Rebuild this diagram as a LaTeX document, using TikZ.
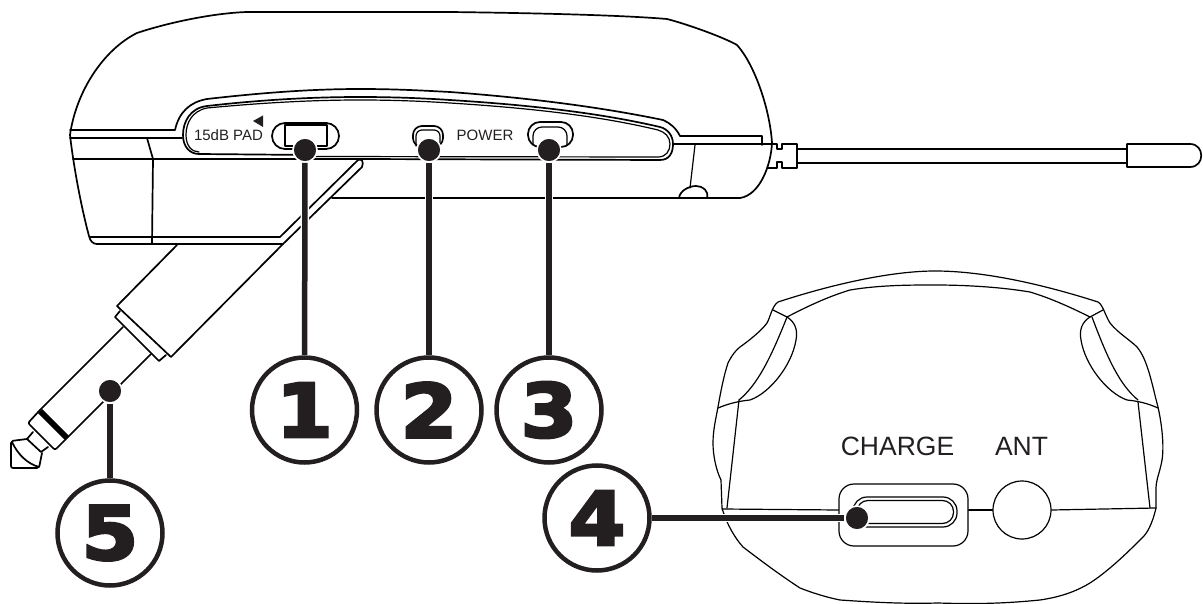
\documentclass[tikz,border=0pt]{standalone}
\usepackage{fontspec}
\setmainfont{Liberation Sans}
\newfontfamily\numfont[FakeBold=4,FakeStretch=1.1]{DejaVu Sans Bold}
\definecolor{calldark}{HTML}{231F20}
\tikzset{
    body/.style={line width=1.7pt,line join=round,line cap=round},
    thinbody/.style={line width=1.2pt,line join=round,line cap=round},
    calldot/.style={circle,fill=calldark,draw=white,line width=1.6pt,minimum size=24pt,inner sep=0pt},
    callnum/.style={circle,draw=calldark,fill=white,line width=4.5pt,minimum size=105pt,inner sep=0pt,
        text=calldark,font=\numfont\fontsize{74}{78}\selectfont},
    callwire/.style={calldark,line width=5.5pt,preaction={draw=white,line width=8.5pt}},
    smalltext/.style={inner sep=0pt,font=\fontsize{15}{18}\selectfont,text=calldark},
    bigtext/.style={inner sep=0pt,font=\fontsize{26.5}{30}\selectfont,text=calldark}
}
\begin{document}
\begin{tikzpicture}[x=1pt,y=-1pt]
    \useasboundingbox (0,0) rectangle (1203,604);

    % Transmitter body outline
    \draw[body] (70,135) .. controls (76,92) and (103,50) .. (137,33) .. controls (170,22) and (215,13) .. (247,12) -- (450,12) .. controls (530,13) and (620,15) .. (667,19) .. controls (690,25) and (725,38) .. (737,45) .. controls (755,65) and (770,110) .. (772,143) .. controls (771,165) and (760,195) .. (740,198);
    \draw[body] (740,198) -- (332,198);
    \draw[body] (70,135) .. controls (74,170) and (82,210) .. (89,236) .. controls (90,241) and (93,244) .. (97,244);
    \draw[body] (97,244) -- (283,244) -- (362,167);
    \draw[body] (90,237) -- (280,237) -- (358,160);
    \draw[body] (358,160) .. controls (362,158) and (364,162) .. (362,167);

    % Panel on the side of the body
    \draw[body] (70,130) -- (175,130) .. controls (179,112) and (190,102) .. (207,99) .. controls (260,93) and (310,89) .. (360,89) .. controls (400,89) and (430,91) .. (450,92) .. controls (530,98) and (600,107) .. (663,120) .. controls (670,123) and (676,128) .. (680,136) -- (762,136) -- (762,145);
    \draw[body] (70,138) -- (182,138);
    \draw[body] (73,159) -- (360,159);
    \draw[body] (360,159) -- (660,160) .. controls (670,160) and (673,152) .. (673,144) .. controls (673,136) and (668,129) .. (660,127) .. controls (600,113) and (530,105) .. (450,100) .. controls (420,98) and (390,97) .. (360,97) .. controls (310,97) and (260,100) .. (207,106) .. controls (190,108) and (183,122) .. (183,135) .. controls (183,147) and (190,154) .. (199,154) -- (310,155);
    \draw[thinbody] (310,156.5) -- (658,157) .. controls (666,157) and (670,151) .. (670,144) .. controls (670,137) and (665,132) .. (658,130) .. controls (600,116) and (530,108) .. (450,103) .. controls (420,101) and (390,100) .. (360,100) .. controls (310,100) and (260,103) .. (207,108) .. controls (192,111) and (186,123) .. (186,135) .. controls (186,146) and (192,152) .. (199,152);
    \draw[body] (673,144) -- (772,144);
    \draw[body] (147,138) -- (153,159) -- (152,244);
    \draw[thinbody] (695,145) -- (690,188);
    \draw[body] (679,198) .. controls (680,190) and (690,186) .. (696,186) .. controls (703,186) and (709,191) .. (707,198);

    % Antenna
    \draw[body] (772,144) -- (777,144) -- (777,149) -- (782,149) -- (782,144) -- (797,144) -- (797,168) -- (782,168) -- (782,162) -- (777,162) -- (777,168) -- (768,168);
    \draw[body] (797,149) -- (1127,149);
    \draw[body] (797,163) -- (1127,163);
    \draw[body] (1127,144) -- (1190,144) .. controls (1205,144) and (1205,167) .. (1190,167) -- (1127,167) -- cycle;

    % Plug
    \draw[body] (177,245) -- (117,306) -- (171,357) -- (283,244);
    \draw[body] (120,311) -- (115,317) -- (159,361) -- (166,355);
    \draw[body] (123,327) -- (40,410);
    \draw[body] (151,354) -- (68,437);
    \draw[line width=6pt] (40,411) -- (67,438);
    \draw[body,rounded corners=2pt] (40,410) -- (28,423) -- (55,450) -- (68,437);
    \draw[body] (33,432) -- (27,439) -- (41,452) -- (48,447);
    \draw[body,rounded corners=2pt] (27,439) -- (11,441) -- (11,468) -- (39,468) -- (42,453);
    \draw[body] (12,442) .. controls (18,455) and (28,464) .. (39,467);

    % Switches and lamp on the panel
    \draw[body,rounded corners=13pt] (272,123) rectangle (339,149);
    \draw[body,fill=white] (285,125) rectangle (327,146);
    \draw[body] (285,123) -- (327,123);
    \draw[body,rounded corners=9pt] (413,126) rectangle (443,147);
    \draw[thinbody,rounded corners=6pt] (416,146) -- (416,130) -- (440,130) -- (440,146);
    \draw[body,rounded corners=12pt] (528,122) rectangle (573,147);
    \draw[thinbody,rounded corners=9pt] (533,145) -- (533,127) -- (567,127) -- (567,145);
    \fill[calldark] (253,121) -- (263,115.5) -- (263,127) -- cycle;
    \node[smalltext] (padlabel) at (228.5,135.5) {15dB PAD};
    \node[smalltext] (powerlabel) at (485,135.5) {POWER};

    % Receiver seen from the end
    \draw[thinbody] (778,302) .. controls (830,285) and (890,271) .. (935,271) .. controls (985,271) and (1045,285) .. (1098,302) .. controls (1103,305) and (1105,315) .. (1110,323) .. controls (1118,333) and (1130,340) .. (1137,347) .. controls (1148,360) and (1152,385) .. (1158,407) .. controls (1162,425) and (1165,450) .. (1161,465) .. controls (1158,478) and (1156,480) .. (1156,490) -- (1156,508) .. controls (1152,525) and (1147,533) .. (1143,537) .. controls (1130,550) and (1110,570) .. (1090,583) .. controls (1075,592) and (1060,597) .. (1040,600) .. controls (1000,604) and (970,604) .. (938,603) .. controls (900,604) and (870,602) .. (840,600) .. controls (825,597) and (810,592) .. (800,588) .. controls (780,575) and (760,560) .. (743,547) .. controls (735,538) and (727,525) .. (722,508) -- (721,480) .. controls (716,470) and (713,455) .. (713,443) .. controls (713,430) and (716,418) .. (718,407) .. controls (721,390) and (724,375) .. (728,363) .. controls (732,355) and (736,350) .. (740,347) .. controls (750,340) and (762,330) .. (767,323) .. controls (770,318) and (772,306) .. (778,302);
    \draw[thinbody] (787,317) .. controls (810,305) and (830,296) .. (850,290) .. controls (880,285) and (910,285) .. (935,285) .. controls (965,285) and (1000,287) .. (1030,292) .. controls (1050,298) and (1070,307) .. (1090,317);
    \draw[thinbody] (773,310) -- (787,317);
    \draw[thinbody] (1103,310) -- (1090,317);
    \draw[thinbody] (787,317) .. controls (795,322) and (798,330) .. (796,340) .. controls (792,365) and (770,393) .. (750,400) .. controls (740,401) and (730,403) .. (718,408);
    \draw[thinbody] (1090,317) .. controls (1082,322) and (1079,330) .. (1081,340) .. controls (1085,365) and (1107,393) .. (1127,400) .. controls (1137,401) and (1147,403) .. (1158,408);
    \draw[thinbody] (787,317) .. controls (770,360) and (757,385) .. (739,400);
    \draw[thinbody] (1092,317) .. controls (1108,360) and (1120,385) .. (1138,400);
    \draw[thinbody] (739,400) -- (727,508);
    \draw[thinbody] (1138,402) -- (1150,508);

    % Sockets
    \node[draw=black,thinbody,minimum size=58pt,circle,inner sep=0pt] (antsocket) at (1022,510) {};
    \node[draw=black,thinbody,rectangle,rounded corners=15pt,minimum width=129pt,minimum height=62pt,inner sep=0pt] (chargesocket) at (903.5,515) {};
    \draw[thinbody] (722,509) -- (chargesocket.west |- 0,510);
    \draw[thinbody] (chargesocket.east |- 0,510) -- (antsocket.west);
    \draw[thinbody] (antsocket.east) -- (1156,508);
    \draw[thinbody,rounded corners=14pt] (853,497) rectangle (957,527);
    \draw[thinbody,rounded corners=11pt] (857,500.5) rectangle (953.5,523.5);
    \node[bigtext] (chargelabel) at (897.5,446.5) {CHARGE};
    \node[bigtext] (antlabel) at (1021.5,446.5) {ANT};

    % Numbered callouts
    \node[calldot] (dota) at (305,150) {};
    \node[calldot] (dotb) at (429,150) {};
    \node[calldot] (dotc) at (549,150) {};
    \node[calldot] (dotd) at (857,518) {};
    \node[calldot] (dote) at (110,391) {};
    \node[callnum] (numa) at (304.5,410) {1};
    \node[callnum] (numb) at (429,410) {2};
    \node[callnum] (numc) at (549,410) {3};
    \node[callnum] (numd) at (597,518) {4};
    \node[callnum] (nume) at (110,533) {5};
    \foreach \from/\to in {dota/numa,dotb/numb,dotc/numc,dotd/numd,dote/nume} {
        \draw[callwire] (\from) -- (\to); % Leader line
    }
\end{tikzpicture}
\end{document}
